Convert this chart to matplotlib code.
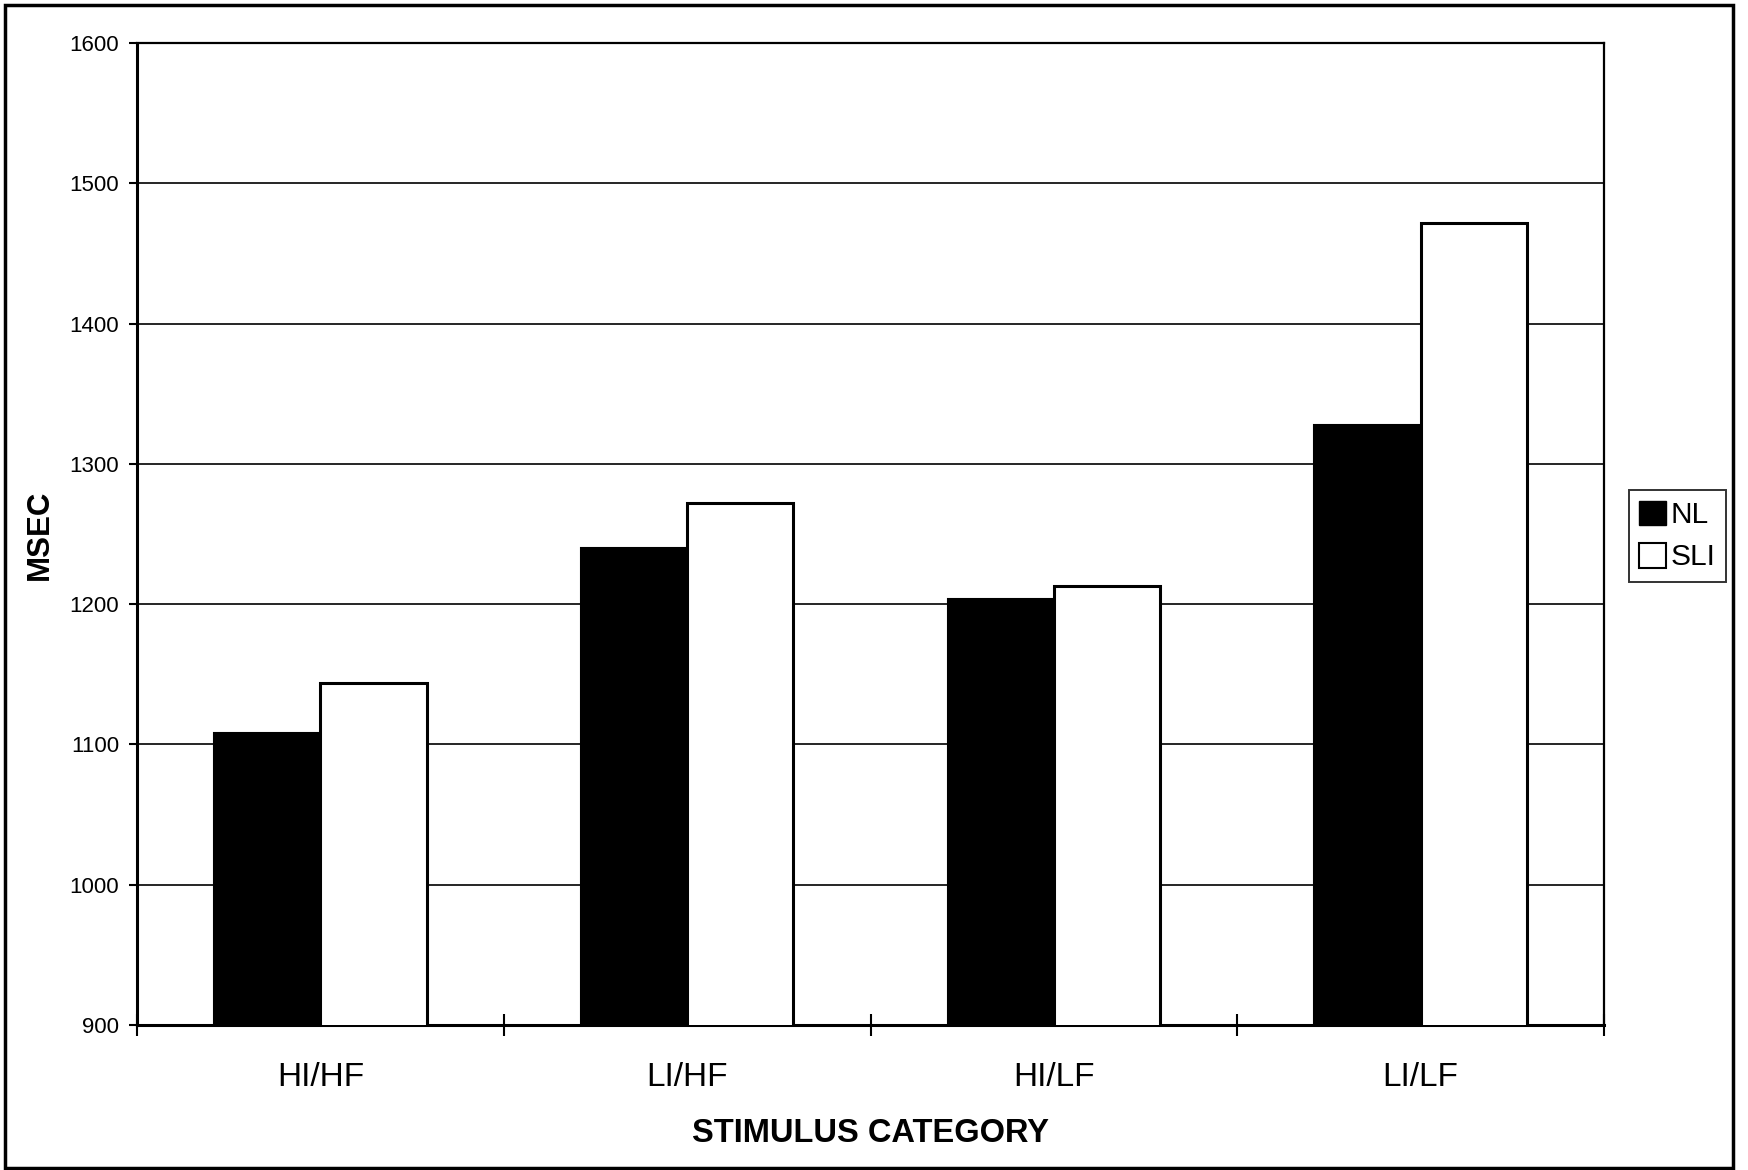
import matplotlib
matplotlib.use("Agg")
import matplotlib.pyplot as plt
import numpy as np
from matplotlib.patches import Rectangle, Patch

# Mean response times (msec) by stimulus category and group
categories = ["HI/HF", "LI/HF", "HI/LF", "LI/LF"]
nl_values = [1108, 1240, 1204, 1328]
sli_values = [1144, 1272, 1213, 1472]
series_labels = ["NL", "SLI"]
y_ticks = [900, 1000, 1100, 1200, 1300, 1400, 1500, 1600]

plt.rcParams["font.family"] = ["Liberation Sans", "DejaVu Sans"]

W, H = 1748, 1170
fig = plt.figure(figsize=(W / 100, H / 100), dpi=100)
ax = fig.add_axes([137 / W, 1 - 1025 / H, (1604 - 137) / W, (1025 - 43) / H])

x = np.arange(len(categories))
bw = 0.29
ax.bar(x - bw / 2, nl_values, width=bw, color="black", edgecolor="black",
       linewidth=1.5, zorder=3, label=series_labels[0])
ax.bar(x + bw / 2, sli_values, width=bw, color="white", edgecolor="black",
       linewidth=2.2, zorder=3, label=series_labels[1])

ax.set_xlim(-0.5, len(categories) - 0.5)
ax.set_ylim(y_ticks[0], y_ticks[-1])
ax.set_yticks(y_ticks)
ax.set_yticklabels([str(v) for v in y_ticks], fontsize=16)
ax.yaxis.grid(True, color="black", linewidth=1.2, zorder=0)
ax.set_axisbelow(True)

ax.set_xticks(x)
ax.set_xticklabels(categories, fontsize=24)
ax.set_xticks(np.arange(-0.5, len(categories)), minor=True)
ax.tick_params(axis="x", which="major", length=0, pad=27)
ax.tick_params(axis="x", which="minor", direction="inout", length=16, width=1.5)
ax.tick_params(axis="y", which="major", direction="out", length=6, width=1.5, pad=7)

for side in ["left", "bottom"]:
    ax.spines[side].set_linewidth(2.2)
for side in ["top", "right"]:
    ax.spines[side].set_linewidth(1.6)

fig.text(781 * 1.1148 / W, 1 - 1133 / H, "STIMULUS CATEGORY", ha="center",
         va="center", fontsize=23.5, fontweight="bold")
fig.text(40 / W, 1 - 535 / H, "MSEC", ha="center", va="center",
         rotation=90, fontsize=22.5, fontweight="bold")

handles = [Patch(facecolor="black", edgecolor="black"),
           Patch(facecolor="white", edgecolor="black", linewidth=1.5)]
leg = fig.legend(handles, series_labels, loc="center left",
                 bbox_to_anchor=(1629 / W, 1 - 536 / H), fontsize=21.5,
                 frameon=True, fancybox=False, handlelength=0.9,
                 handleheight=0.9, handletextpad=0.15, borderpad=0.35,
                 labelspacing=0.45, borderaxespad=0)
leg.get_frame().set_edgecolor("black")
leg.get_frame().set_linewidth(1.4)

# Outer frame around the whole figure
fig.patches.append(Rectangle((5 / W, 1 - 1168 / H), (1733 - 5) / W,
                             (1168 - 5) / H, transform=fig.transFigure,
                             fill=False, edgecolor="black", linewidth=2.5))

fig.savefig("out.png", dpi=100)
